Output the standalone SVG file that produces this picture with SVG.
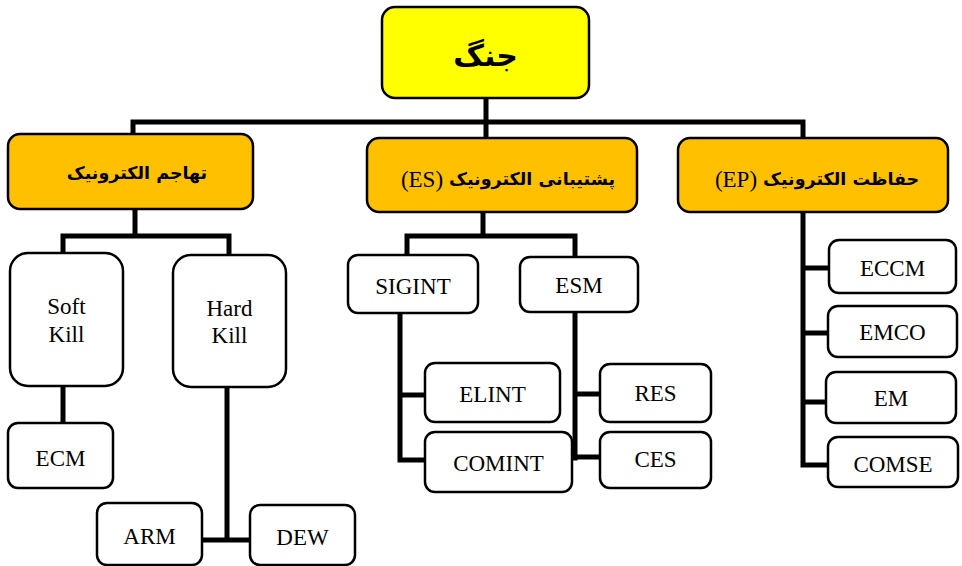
<svg xmlns="http://www.w3.org/2000/svg" width="962" height="566" viewBox="0 0 962 566">
<style>
.box{fill:#fff;stroke:#000;stroke-width:2.5}
.root{fill:#ffff00;stroke:#000;stroke-width:2.5}
.l1{fill:#ffc000;stroke:#000;stroke-width:2.5}
.en{font-family:"Liberation Serif","Times New Roman",serif;font-size:23px;fill:#000;text-anchor:middle}
.fa{font-family:"DejaVu Sans","Noto Sans",sans-serif;font-weight:bold;font-size:17.5px;fill:#000}
.c{fill:none;stroke:#000;stroke-width:5;stroke-linejoin:miter;stroke-linecap:square}
</style>
<rect width="962" height="566" fill="#fff"/>
<g id="connectors">
<path class="c" d="M486 98 V136"/>
<path class="c" d="M133 133 V122 H803 V137"/>
<path class="c" d="M135 210 V236 M63 252 V236 H229 V254"/>
<path class="c" d="M483 212 V236 M407 253 V236 H575 V256"/>
<path class="c" d="M803 212 V465 H828 M803 268 H829 M803 333 H828 M803 402 H826"/>
<path class="c" d="M63 387 V422"/>
<path class="c" d="M227 388 V540 M203 540 H250"/>
<path class="c" d="M400 314 V460 H425 M400 395 H425"/>
<path class="c" d="M575 313 V458 M575 394 H600 M572 457 H600"/>
</g>
<g id="root"><rect class="root" x="382" y="7" width="207" height="91" rx="13"/><text class="fa" x="485.5" y="66" text-anchor="middle" style="font-size:30px">جنگ</text></g>
<g id="ea"><rect class="l1" x="8" y="134" width="245" height="75" rx="12"/><text class="fa" x="137" y="179" text-anchor="middle">تهاجم الکترونیک</text></g>
<g id="es"><rect class="l1" x="367" y="138" width="270" height="74" rx="12"/><text class="en" x="422" y="187">(ES)</text><text class="fa" x="449" y="185">پشتیبانی الکترونیک</text></g>
<g id="ep"><rect class="l1" x="678" y="138" width="270" height="74" rx="12"/><text class="en" x="736" y="187">(EP)</text><text class="fa" x="763" y="185">حفاظت الکترونیک</text></g>
<g id="softkill"><rect class="box" x="10" y="253" width="113" height="133" rx="18"/><text class="en" x="66.5" y="314">Soft</text><text class="en" x="66.5" y="342">Kill</text></g>
<g id="hardkill"><rect class="box" x="173" y="255" width="113" height="132" rx="18"/><text class="en" x="229.5" y="316">Hard</text><text class="en" x="229.5" y="343">Kill</text></g>
<g id="ecm"><rect class="box" x="8" y="423" width="105" height="65" rx="10"/><text class="en" x="60.5" y="466">ECM</text></g>
<g id="arm"><rect class="box" x="97" y="503" width="105" height="62" rx="10"/><text class="en" x="149.5" y="544">ARM</text></g>
<g id="dew"><rect class="box" x="250" y="505" width="105" height="60" rx="10"/><text class="en" x="302.5" y="545">DEW</text></g>
<g id="sigint"><rect class="box" x="348" y="255" width="130" height="58" rx="10"/><text class="en" x="413" y="294">SIGINT</text></g>
<g id="esm"><rect class="box" x="520" y="257" width="118" height="55" rx="10"/><text class="en" x="579" y="293">ESM</text></g>
<g id="elint"><rect class="box" x="425" y="363" width="135" height="59" rx="10"/><text class="en" x="492.5" y="402">ELINT</text></g>
<g id="comint"><rect class="box" x="425" y="432" width="147" height="60" rx="10"/><text class="en" x="498.5" y="471">COMINT</text></g>
<g id="res"><rect class="box" x="600" y="364" width="111" height="58" rx="10"/><text class="en" x="655.5" y="401">RES</text></g>
<g id="ces"><rect class="box" x="600" y="432" width="111" height="56" rx="10"/><text class="en" x="655.5" y="467">CES</text></g>
<g id="eccm"><rect class="box" x="829" y="240" width="127" height="53" rx="10"/><text class="en" x="892.5" y="276">ECCM</text></g>
<g id="emco"><rect class="box" x="828" y="306" width="129" height="51" rx="10"/><text class="en" x="892.5" y="340">EMCO</text></g>
<g id="em"><rect class="box" x="826" y="372" width="130" height="51" rx="10"/><text class="en" x="891" y="406">EM</text></g>
<g id="comse"><rect class="box" x="828" y="437" width="130" height="50" rx="10"/><text class="en" x="893" y="472">COMSE</text></g>
</svg>
